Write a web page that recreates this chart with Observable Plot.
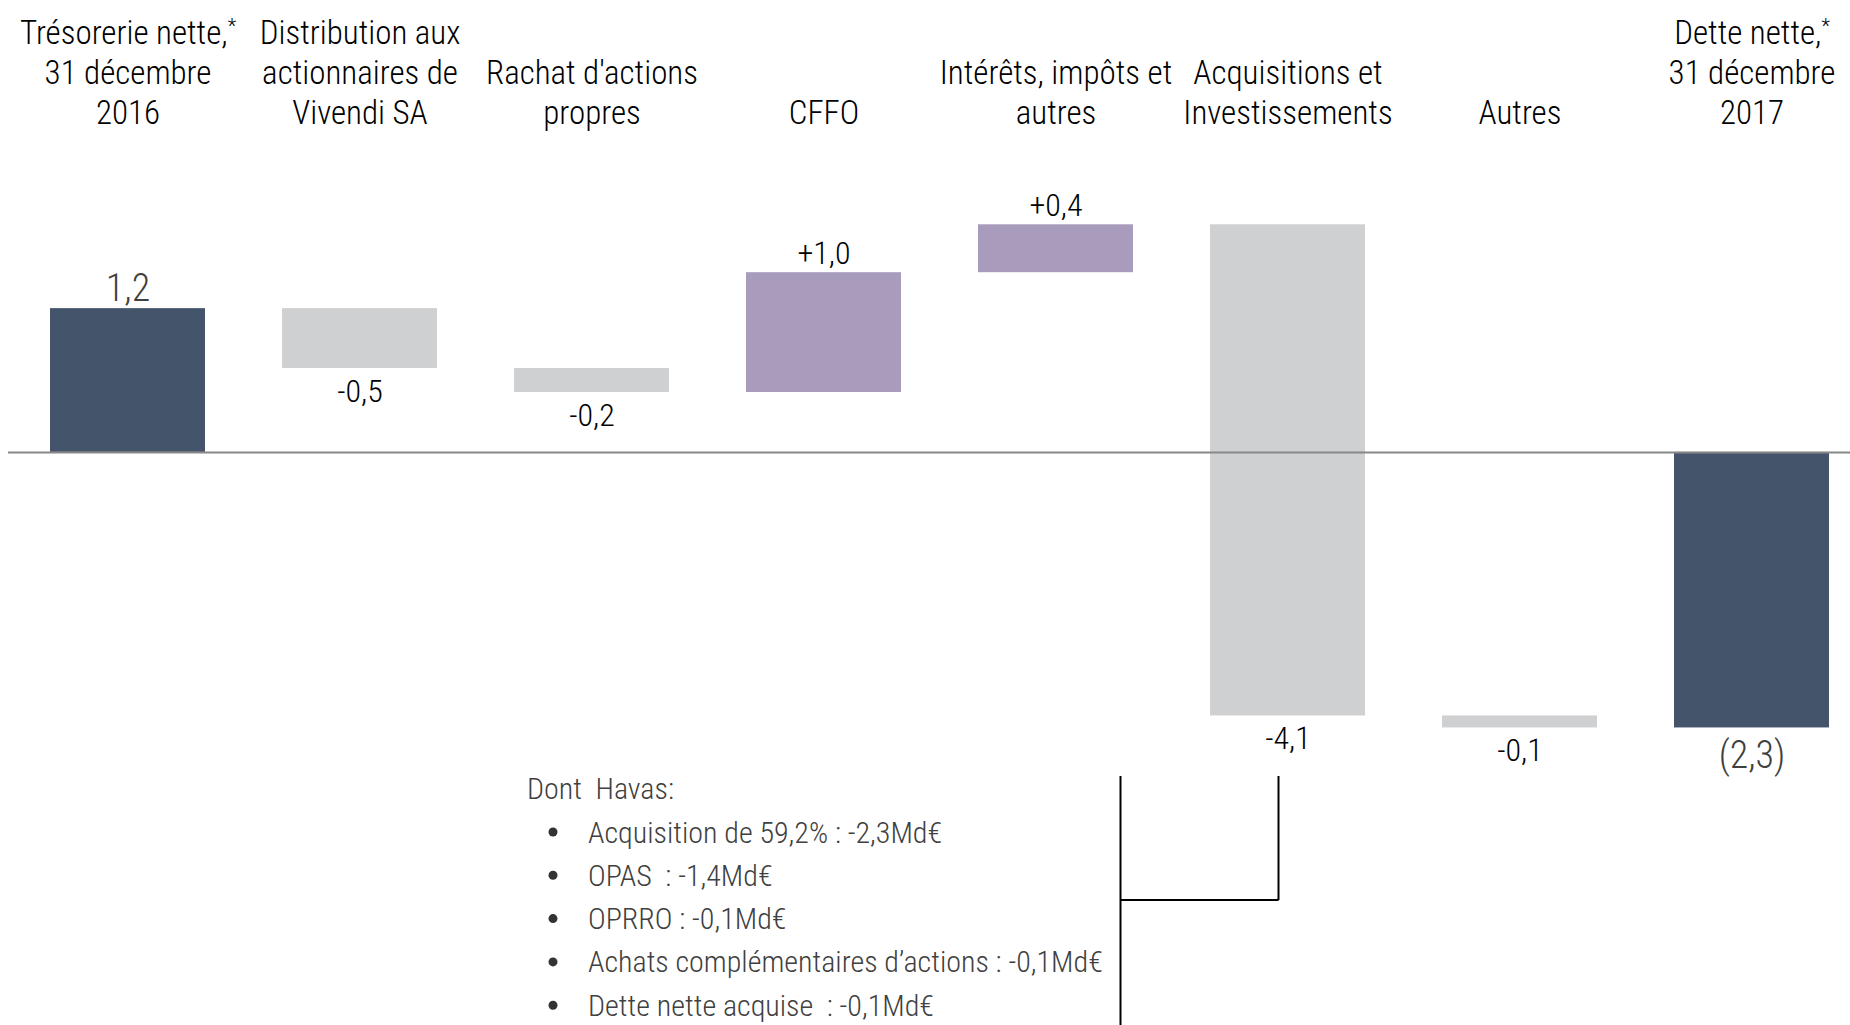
<!DOCTYPE html>
<html><head><meta charset="utf-8">
<script src="https://cdn.jsdelivr.net/npm/d3@7"></script>
<script src="https://cdn.jsdelivr.net/npm/@observablehq/plot@0.6"></script>
<style>
html,body{margin:0;padding:0;background:#fff;}
#chart svg{display:block;}
</style></head><body><div id="chart"></div>
<script>
const categories = [
  "Trésorerie nette,*\n31 décembre\n2016",
  "Distribution aux\nactionnaires de\nVivendi SA",
  "Rachat d'actions\npropres",
  "CFFO",
  "Intérêts, impôts et\nautres",
  "Acquisitions et\nInvestissements",
  "Autres",
  "Dette nette,*\n31 décembre\n2017"
];
const values = [1.2, -0.5, -0.2, 1.0, 0.4, -4.1, -0.1, -2.3];
const kinds = ["total", "delta", "delta", "delta", "delta", "delta", "delta", "total"];
const havasTitle = "Dont  Havas:";
const havasItems = [
  "Acquisition de 59,2% : -2,3Md€",
  "OPAS  : -1,4Md€",
  "OPRRO : -0,1Md€",
  "Achats complémentaires d’actions : -0,1Md€",
  "Dette nette acquise  : -0,1Md€"
];

const FONT = '"Liberation Sans Narrow", "Arial Narrow", "Roboto Condensed", sans-serif';
const NAVY = "#44546a", GRAY = "#cfd0d2", PURPLE = "#a99bbb";

let run = 0;
const data = categories.map((c, i) => {
  const v = values[i], k = kinds[i];
  let y1, y2;
  if (k === "total") { y1 = 0; y2 = v; run = v; }
  else { y1 = run; y2 = run + v; run = y2; }
  return {cat: c, value: v, kind: k, y1, y2, lo: Math.min(y1, y2), hi: Math.max(y1, y2)};
});
const colorOf = d => d.kind === "total" ? NAVY : (d.value > 0 ? PURPLE : GRAY);
const fmt = d => {
  const s = Math.abs(d.value).toFixed(1).replace(".", ",");
  if (d.kind === "total") return d.value < 0 ? `(${s})` : s;
  return (d.value > 0 ? "+" : "-") + s;
};

const W = 1850, H = 1025;
const y0 = 451.9, k = 119.8;

const plot = Plot.plot({
  width: W, height: H,
  marginLeft: 8, marginRight: 0, marginTop: 0, marginBottom: 0,
  x: {domain: categories, paddingInner: 0.33, paddingOuter: 0.1256, align: 0.668, axis: null},
  y: {domain: [-4, 2.5], range: [y0 + 4 * k, y0 - 2.5 * k], axis: null},
  color: {type: "identity"},
  style: {fontFamily: FONT, fontWeight: 300, background: "#fff", overflow: "visible"},
  marks: [
    Plot.barY(data, {x: "cat", y1: "y1", y2: "y2", fill: colorOf}),
    Plot.ruleY([0], {stroke: "#888", strokeWidth: 2}),
    Plot.text(categories, {x: d => d, text: d => d, frameAnchor: "top", lineAnchor: "bottom", dy: 123, fontSize: 33, lineHeight: 1.2, fill: "#000"}),
    Plot.text(data.filter(d => d.kind === "delta" && d.value > 0), {x: "cat", y: "hi", text: fmt, dy: -19, fontSize: 32, fill: "#000"}),
    Plot.text(data.filter(d => d.kind === "delta" && d.value < 0), {x: "cat", y: "lo", text: fmt, dy: 23, fontSize: 32, fill: "#000"}),
    Plot.text(data.filter(d => d.kind === "total" && d.value > 0), {x: "cat", y: "hi", text: fmt, dy: -20, fontSize: 38, fill: "#404040"}),
    Plot.text(data.filter(d => d.kind === "total" && d.value < 0), {x: "cat", y: "lo", text: fmt, dy: 28, fontSize: 38, fill: "#404040"})
  ]
});

d3.select(plot).selectAll("tspan").each(function() {
  const t = this.textContent;
  if (t.endsWith("*")) {
    this.textContent = t.slice(0, -1);
    d3.select(this).append("tspan").attr("baseline-shift", "super").attr("font-size", "0.6em").text("*");
  }
});

const svg = d3.select(plot);
const xs = plot.scale("x");
const acq = categories[5];
const cx6 = xs.apply(acq) + xs.bandwidth / 2;
const v2x = cx6 - 9, v1x = cx6 - 167, topY = 776, hY = 900;
const br = svg.append("g").attr("stroke", "#000").attr("stroke-width", 2).attr("fill", "none");
br.append("line").attr("x1", v1x).attr("x2", v1x).attr("y1", topY).attr("y2", H);
br.append("line").attr("x1", v1x).attr("x2", v2x).attr("y1", hY).attr("y2", hY);
br.append("line").attr("x1", v2x).attr("x2", v2x).attr("y1", topY).attr("y2", hY);

const ann = svg.append("g").attr("font-family", FONT).attr("font-weight", 300).attr("font-size", 30).attr("fill", "#404040").attr("text-anchor", "start");
ann.append("text").attr("x", 527).attr("y", 788).attr("dy", "0.35em").text(havasTitle);
havasItems.forEach((s, i) => {
  const yy = 832 + i * 43.3;
  ann.append("circle").attr("cx", 553).attr("cy", yy).attr("r", 4.5).attr("fill", "#333");
  ann.append("text").attr("x", 588).attr("y", yy).attr("dy", "0.35em").text(s);
});

document.getElementById("chart").appendChild(plot);
</script>
</body></html>
